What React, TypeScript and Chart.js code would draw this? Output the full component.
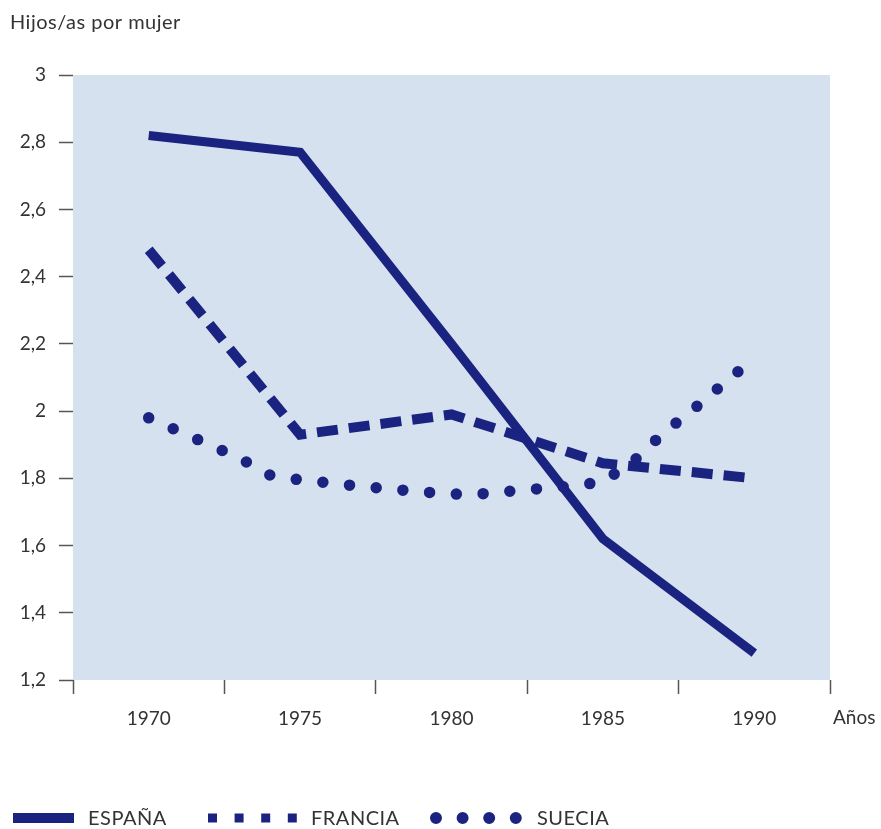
import React, { useEffect, useRef } from 'react';
import { Chart, registerables } from 'chart.js';

Chart.register(...registerables);

// ---- data ----
const years = [1970, 1975, 1980, 1985, 1990];
const espana = [2.82, 2.77, 2.2, 1.62, 1.28];
const francia = [2.48, 1.93, 1.99, 1.845, 1.8];
const sueciaYears = [
  1970, 1971, 1972, 1973, 1974, 1975, 1976, 1977, 1978, 1979,
  1980, 1981, 1982, 1983, 1984, 1985, 1986, 1987, 1988, 1989, 1989.5,
];
const suecia = [
  1.98, 1.94, 1.9, 1.86, 1.81, 1.795, 1.786, 1.776, 1.768, 1.76,
  1.753, 1.754, 1.762, 1.77, 1.777, 1.79, 1.85, 1.935, 2.006, 2.083, 2.12,
];
const seriesNames = ['ESPAÑA', 'FRANCIA', 'SUECIA'];
const xLabels = [1970, 1975, 1980, 1985, 1990];
const xBoundaries = [1967.5, 1972.5, 1977.5, 1982.5, 1987.5, 1992.5];
const yTicks = [1.2, 1.4, 1.6, 1.8, 2, 2.2, 2.4, 2.6, 2.8, 3];
const yTitle = 'Hijos/as por mujer';
const xTitle = 'Años';

// ---- styles ----
const NAVY = '#1b2381';
const BG = '#d6e1f0';
const TEXT = '#333333';
const TICK = '#555555';
const FONT = 'Lato, "Open Sans", sans-serif';
const FS = 19;
const FS_TXT = 20;

const fmt = (v: number) => {
  const r = Math.round(v * 10) / 10;
  return String(r).replace('.', ',');
};

const decor = {
  id: 'decor',
  beforeDraw(chart: any) {
    const { ctx, chartArea } = chart;
    const { left, top, right, bottom } = chartArea;
    ctx.save();
    ctx.fillStyle = BG;
    ctx.fillRect(left, top, right - left, bottom - top);
    ctx.restore();
  },
  afterDraw(chart: any) {
    const { ctx, chartArea } = chart;
    ctx.save();
    ctx.fillStyle = TEXT;
    ctx.textBaseline = 'middle';
    ctx.textAlign = 'left';
    ctx.font = `${FS_TXT}px ${FONT}`;
    ctx.letterSpacing = '0.5px';
    ctx.fillText(yTitle, 10, 23);
    ctx.letterSpacing = '0px';
    ctx.font = `${FS}px ${FONT}`;
    ctx.fillText(xTitle, chartArea.right + 3, chartArea.bottom + 38);

    // legend
    const ly = 818;
    const items = [
      { x0: 13, x1: 74, tx: 88 },
      { x0: 208, x1: 297, tx: 311 },
      { x0: 436, x1: 516, tx: 537 },
    ];
    items.forEach((it, i) => {
      ctx.save();
      ctx.strokeStyle = NAVY;
      ctx.beginPath();
      if (i === 0) {
        ctx.lineWidth = 10;
        ctx.lineCap = 'butt';
        ctx.setLineDash([]);
        ctx.moveTo(it.x0, ly);
        ctx.lineTo(it.x1, ly);
      } else if (i === 1) {
        ctx.lineWidth = 9;
        ctx.lineCap = 'butt';
        ctx.setLineDash([9, 17.6]);
        ctx.moveTo(it.x0, ly);
        ctx.lineTo(it.x1 + 1, ly);
      } else {
        ctx.lineWidth = 12;
        ctx.lineCap = 'round';
        ctx.setLineDash([0, 26.6]);
        ctx.moveTo(it.x0, ly);
        ctx.lineTo(it.x1 + 1, ly);
      }
      ctx.stroke();
      ctx.restore();
      ctx.fillStyle = TEXT;
      ctx.font = `${FS_TXT}px ${FONT}`;
      ctx.letterSpacing = '0.5px';
      ctx.textBaseline = 'middle';
      ctx.fillText(seriesNames[i], it.tx, ly + 1);
      ctx.letterSpacing = '0px';
    });
    ctx.restore();
  },
};

export default function App() {
  const ref = useRef<HTMLCanvasElement>(null);

  useEffect(() => {
    if (!ref.current) return;
    const chart = new Chart(ref.current, {
      type: 'line',
      data: {
        datasets: [
          {
            label: seriesNames[0],
            data: years.map((x, i) => ({ x, y: espana[i] })),
            borderColor: NAVY,
            borderWidth: 9,
            pointRadius: 0,
            borderJoinStyle: 'miter',
            borderCapStyle: 'butt',
          },
          {
            label: seriesNames[1],
            data: years.map((x, i) => ({ x, y: francia[i] })),
            borderColor: NAVY,
            borderWidth: 10,
            borderDash: [21, 11],
            pointRadius: 0,
            borderJoinStyle: 'miter',
            borderCapStyle: 'butt',
          },
          {
            label: seriesNames[2],
            data: sueciaYears.map((x, i) => ({ x, y: suecia[i] })),
            borderColor: NAVY,
            borderWidth: 11.5,
            borderDash: [0, 26.8],
            borderCapStyle: 'round',
            borderJoinStyle: 'round',
            pointRadius: 0,
          },
        ],
      },
      options: {
        animation: false,
        responsive: true,
        maintainAspectRatio: false,
        layout: { padding: { top: 75, right: 51, bottom: 89, left: 0 } },
        plugins: {
          legend: { display: false },
          tooltip: { enabled: false },
          title: { display: false },
        },
        scales: {
          x: {
            type: 'linear',
            min: 1967.5,
            max: 1992.5,
            afterBuildTicks: (axis: any) => {
              const vals = [...xBoundaries, ...xLabels].sort((a, b) => a - b);
              axis.ticks = vals.map((v) => ({ value: v }));
            },
            afterFit: (scale: any) => {
              scale.height = 60;
            },
            border: { display: false },
            grid: {
              drawOnChartArea: false,
              drawTicks: true,
              tickLength: 14,
              tickWidth: 1.5,
              tickColor: (c: any) =>
                c.tick && xBoundaries.includes(c.tick.value) ? TICK : 'rgba(0,0,0,0)',
            },
            ticks: {
              autoSkip: false,
              maxRotation: 0,
              padding: 13,
              color: TEXT,
              font: { family: FONT, size: FS },
              callback: (v: any) => (xLabels.includes(Number(v)) ? String(v) : ''),
            },
          },
          y: {
            type: 'linear',
            min: 1.2,
            max: 3,
            afterBuildTicks: (axis: any) => {
              axis.ticks = yTicks.map((v) => ({ value: v }));
            },
            afterFit: (scale: any) => {
              scale.width = 73;
            },
            border: { display: false },
            grid: {
              drawOnChartArea: false,
              drawTicks: true,
              tickLength: 14,
              tickWidth: 1.5,
              tickColor: TICK,
            },
            ticks: {
              padding: 13,
              color: TEXT,
              font: { family: FONT, size: FS },
              callback: (v: any) => fmt(Number(v)),
            },
          },
        },
      },
      plugins: [decor],
    });
    return () => chart.destroy();
  }, []);

  return (
    <div style={{ position: 'fixed', left: 0, top: 0, width: 881, height: 829, background: '#fff' }}>
      <canvas ref={ref} />
    </div>
  );
}
